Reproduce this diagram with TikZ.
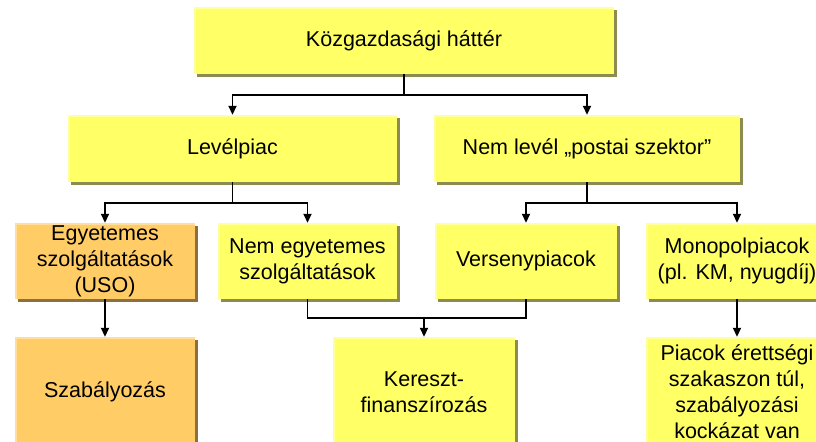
\documentclass[tikz,border=0pt]{standalone}
\usepackage{fontspec}
\setmainfont{Liberation Sans}
\usetikzlibrary{arrows.meta,shadows,calc}

\definecolor{boxyellow}{HTML}{FFFF66}
\definecolor{boxorange}{HTML}{FFCC66}
\definecolor{shadeyellow}{HTML}{8C8C50}
\definecolor{shadeorange}{HTML}{8C7040}

\tikzset{
  basebox/.style={
    draw=none, inner sep=0pt, align=center,
    font=\fontsize{21.5bp}{26bp}\selectfont,
    path picture={
      \fill[white,opacity=0.35]
        (path picture bounding box.north west) rectangle
        ([yshift=-2bp]path picture bounding box.north east);
      \fill[white,opacity=0.35]
        ([yshift=-2bp]path picture bounding box.north west) rectangle
        ([xshift=2bp]path picture bounding box.south west);
    }
  },
  ybox/.style={basebox, fill=boxyellow,
    drop shadow={shadow xshift=3bp, shadow yshift=-3bp, fill=shadeyellow, opacity=1}},
  obox/.style={basebox, fill=boxorange,
    drop shadow={shadow xshift=3bp, shadow yshift=-3bp, fill=shadeorange, opacity=1}},
  ln/.style={line width=1.8bp, black},
  arr/.style={ln, -{Triangle[width=8bp,length=9bp]}}
}

\begin{document}
\begin{tikzpicture}[x=1bp, y=-1bp]
  \useasboundingbox (0,0) rectangle (816,442);
  \clip (0,0) rectangle (816,442);

  % top level
  \node[ybox, minimum width=420bp, minimum height=67bp] (top) at (404,40.5) {Közgazdasági háttér};

  % second level
  \node[ybox, minimum width=329bp, minimum height=67bp] (lev) at (232.5,148.5) {Levélpiac};
  \node[ybox, minimum width=306bp, minimum height=67bp] (nem) at (587,148.5) {Nem levél „postai szektor”};

  % third level
  \node[obox, minimum width=180bp, minimum height=76bp] (ego) at (105,261) {Egyetemes\\szolgáltatások\\(USO)};
  \node[ybox, minimum width=179bp, minimum height=76bp] (nemego) at (307.5,261) {Nem egyetemes\\szolgáltatások};
  \node[ybox, minimum width=182bp, minimum height=76bp] (vers) at (526,261) {Versenypiacok};
  \node[ybox, minimum width=182bp, minimum height=76bp] (mono) at (737,261) {Monopolpiacok\\(pl. KM, nyugdíj)};

  % fourth level
  \node[obox, minimum width=180bp, minimum height=110bp] (szab) at (105,392) {Szabályozás};
  \node[ybox, minimum width=182bp, minimum height=110bp] (ker) at (424,392) {Kereszt-\\finanszírozás};
  \node[ybox, minimum width=182bp, minimum height=110bp] (piac) at (737,392) {Piacok érettségi\\szakaszon túl,\\szabályozási\\kockázat van};

  % connectors
  \coordinate (j1) at ($(top.south)+(0,21)$);
  \draw[ln] (top.south) -- (j1);
  \draw[arr] (j1) -| (lev.north);
  \draw[arr] (j1) -| (nem.north);

  \coordinate (j2) at ($(lev.south)+(0,21)$);
  \draw[ln] (lev.south) -- (j2);
  \draw[arr] (j2) -| (ego.north);
  \draw[arr] (j2) -| (nemego.north);

  \coordinate (j3) at ($(nem.south)+(0,21)$);
  \draw[ln] (nem.south) -- (j3);
  \draw[arr] (j3) -| (vers.north);
  \draw[arr] (j3) -| (mono.north);

  \draw[arr] (ego.south) -- (szab.north);
  \draw[arr] (mono.south) -- (piac.north);

  \coordinate (j4) at ($(nemego.south)+(0,19)$);
  \draw[ln] (nemego.south) -- (j4) -| (vers.south);
  \draw[arr] (j4 -| ker.north) -- (ker.north);
\end{tikzpicture}
\end{document}
